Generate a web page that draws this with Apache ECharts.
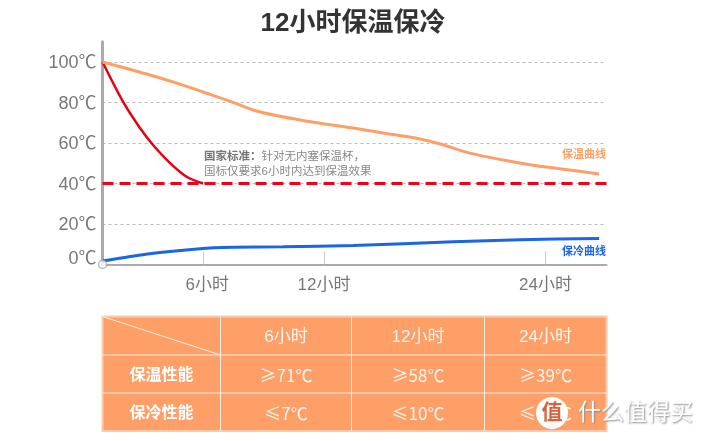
<!DOCTYPE html>
<html>
<head>
<meta charset="utf-8">
<style>
  html, body { margin: 0; padding: 0; background: #fff; }
  #chart { width: 706px; height: 441px; }
</style>
<script src="https://cdn.jsdelivr.net/npm/echarts@6/dist/echarts.min.js"></script>
</head>
<body>
<div id="chart"></div>
<script>
const FONT = '"Liberation Sans", "Noto Sans CJK SC", sans-serif';
const CJK_FONT = '"Noto Sans CJK SC", sans-serif';

// 横轴刻度（原图6小时的刻度并不在比例位置上，按图读）
const tickHours = [5.45, 12, 24];
const labelHours = [5.67, 12, 24];
const tickNames = ['6小时', '12小时', '24小时'];
const tempTicks = [0, 20, 40, 60, 80, 100];

// [小时, 温度]
const warmCurve = [[0, 100], [2.57, 93.6], [4.36, 88.6], [5.45, 85.2], [6.75, 81.2], [8.16, 76.3], [9.46, 73.5], [11.63, 70], [13.58, 67.4], [15.37, 64.7], [17.2, 62], [18.3, 59.5], [19.9, 55], [21.7, 51.6], [23.5, 48.8], [25.3, 46.7], [26.9, 44.7]];
const coldCurve = [[0, 1.7], [2.44, 5.2], [5.28, 7.8], [7.07, 8.5], [9.78, 8.8], [13.58, 9.4], [19, 11.2], [22.6, 12.2], [26.9, 12.9]];
const standardCurve = [[0, 100], [1.11, 80.4], [2.03, 67.4], [2.74, 59], [3.66, 50.1], [4.58, 43.2], [5.45, 40]];
const standardLine = [[0, 40], [27.3, 40]];

const tableHead = ['6小时', '12小时', '24小时'];
const tableRows = [
  { name: '保温性能', values: ['≥71℃', '≥58℃', '≥39℃'] },
  { name: '保冷性能', values: ['≤7℃', '≤10℃', '≤13℃'] }
];

// 表格
const colX = [102.5, 220.5, 351.5, 484.5, 606.5];
const rowY = [316.5, 355, 393, 431];
const tableColor = '#ff9f68';

function buildTable() {
  let items = [];
  items.push({
    type: 'rect',
    shape: { x: colX[0], y: rowY[0], width: colX[4] - colX[0], height: rowY[3] - rowY[0] },
    style: { fill: tableColor, stroke: '#ffc9a8', lineWidth: 2 }
  });
  colX.slice(1, 4).forEach(x => {
    items.push({ type: 'line', shape: { x1: x, y1: rowY[0], x2: x, y2: rowY[3] }, style: { stroke: '#ffeee3', lineWidth: 1 } });
  });
  rowY.slice(1, 3).forEach(y => {
    items.push({ type: 'line', shape: { x1: colX[0], y1: y, x2: colX[4], y2: y }, style: { stroke: '#ffeee3', lineWidth: 1 } });
  });
  items.push({ type: 'line', shape: { x1: colX[0], y1: rowY[0], x2: colX[1], y2: rowY[1] }, style: { stroke: '#ffeee3', lineWidth: 1 } });

  const cell = (text, c, r, bold, font) => ({
    type: 'text',
    x: (colX[c] + colX[c + 1]) / 2,
    y: (rowY[r] + rowY[r + 1]) / 2 + 1.5,
    style: { text: text, fill: '#fff', font: (bold ? 'bold 16px ' : '17px ') + (font || FONT), align: 'center', verticalAlign: 'middle', opacity: bold ? 1 : 0.9 }
  });
  tableHead.forEach((t, i) => items.push(cell(t, i + 1, 0)));
  tableRows.forEach((row, r) => {
    items.push(cell(row.name, 0, r + 1, true));
    // ≥ ≤ 用中文字体才是原图那种斜脚
    row.values.forEach((v, i) => items.push(cell(v, i + 1, r + 1, false, CJK_FONT)));
  });
  return items;
}

const note = {
  type: 'text',
  x: 204,
  y: 149,
  style: {
    text: '{b|国家标准：}{n|针对无内塞保温杯，}\n{n|国标仅要求6小时内达到保温效果}',
    rich: {
      b: { font: 'bold 11.5px ' + FONT, fill: '#777', lineHeight: 15 },
      n: { font: '11.5px ' + FONT, fill: '#888', lineHeight: 15 }
    }
  }
};

const curveNames = [
  { type: 'text', x: 606, y: 155, style: { text: '保温曲线', fill: '#ff9f68', font: 'bold 11px ' + FONT, align: 'right', verticalAlign: 'middle' } },
  { type: 'text', x: 606, y: 252, style: { text: '保冷曲线', fill: '#1a66e6', font: 'bold 11px ' + FONT, align: 'right', verticalAlign: 'middle' } }
];

const watermark = [
  { type: 'circle', shape: { cx: 552, cy: 413, r: 16 }, style: { fill: '#fff' } },
  { type: 'text', x: 552, y: 413, style: { text: '值', fill: '#d9633a', font: 'bold 21px ' + FONT, align: 'center', verticalAlign: 'middle' } },
  { type: 'text', x: 578, y: 414, style: { text: '什么值得买', fill: '#fff', font: '23px ' + FONT, verticalAlign: 'middle', textShadowColor: '#888', textShadowBlur: 2, textShadowOffsetX: 1, textShadowOffsetY: 1 } }
];

let myChart = echarts.init(document.getElementById('chart'), null, { renderer: 'canvas' });
let option = {
  animation: false,
  backgroundColor: '#fff',
  title: {
    text: '12小时保温保冷',
    left: 'center',
    top: 6,
    textStyle: { fontFamily: FONT, fontSize: 26, fontWeight: 'bold', color: '#333' }
  },
  grid: { left: 102.5, top: 41.75, width: 504, height: 222.75 },
  xAxis: {
    type: 'value',
    min: 0,
    max: 27.3,
    splitLine: { show: false },
    axisLine: { lineStyle: { color: '#aaa', width: 2 } },
    axisTick: { customValues: tickHours, inside: true, length: 13, lineStyle: { color: '#ccc', width: 1 } },
    axisLabel: {
      customValues: labelHours,
      formatter: v => tickNames[labelHours.indexOf(v)],
      margin: 12,
      fontFamily: FONT,
      fontSize: 17,
      color: '#777'
    }
  },
  yAxis: {
    type: 'value',
    min: 0,
    max: 110,
    interval: 20,
    axisLine: { show: true, lineStyle: { color: '#aaa', width: 3 } },
    axisTick: { show: false },
    splitLine: { show: true, showMinLine: false, showMaxLine: false, lineStyle: { type: [3, 3], color: '#bbb', width: 1 } },
    axisLabel: {
      // 0℃ 在图上比刻度略高
      formatter: v => (v === 0 ? '{z|0℃}' : tempTicks.indexOf(v) >= 0 ? '{n|' + v + '℃}' : ''),
      rich: {
        z: { fontFamily: FONT, fontSize: 18, color: '#777', padding: [0, 0, 10, 0] },
        n: { fontFamily: FONT, fontSize: 18, color: '#777', padding: [3, 0, 0, 0] }
      },
      margin: 6
    }
  },
  series: [
    { name: '国家标准线', type: 'line', data: standardLine, symbol: 'none', lineStyle: { color: '#f0001c', width: 3, type: [11, 6] } },
    { name: '国家标准', type: 'line', data: standardCurve, symbol: 'none', smooth: 0.25, lineStyle: { color: '#e60012', width: 2.5 } },
    { name: '保温曲线', type: 'line', data: warmCurve, symbol: 'none', smooth: 0.25, lineStyle: { color: '#ff9f68', width: 3 } },
    { name: '保冷曲线', type: 'line', data: coldCurve, symbol: 'none', smooth: 0.25, lineStyle: { color: '#1a66e6', width: 3 } },
    { name: '原点', type: 'scatter', data: [[0, 0]], symbolSize: 8, clip: false, silent: true, z: 5, itemStyle: { color: '#fff', borderColor: '#aaa', borderWidth: 1.5 } }
  ],
  graphic: { elements: [note].concat(curveNames, buildTable(), watermark) }
};
myChart.setOption(option, true);
</script>
</body>
</html>
